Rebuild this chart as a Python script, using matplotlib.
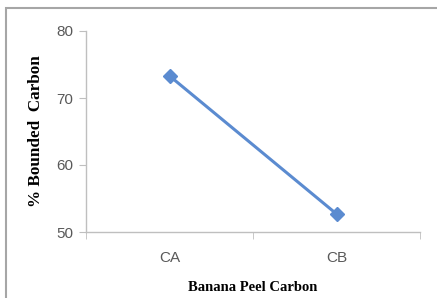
import matplotlib.pyplot as plt
from matplotlib.patches import Rectangle

# ------------------------------
# Data
# ------------------------------
categories = ["CA", "CB"]
bounded_carbon = [73.3, 52.7]
y_ticks = [50, 60, 70, 80]

W, H = 437, 298
fig = plt.figure(figsize=(W / 100, H / 100), dpi=100)

# outer chart frame (runs off the right/bottom edge as in the scan)
fig.patches.append(Rectangle((6 / W, -0.05), 1.0, 1 - 8 / H + 0.05,
                             transform=fig.transFigure, fill=False,
                             edgecolor="#a6a6a6", linewidth=1.5))

ax = fig.add_axes([86 / W, 1 - 232 / H, (420 - 86) / W, (232 - 31) / H])
x = list(range(len(categories)))
ax.plot(x, bounded_carbon, color="#5b8bd0", linewidth=2.2,
        marker="D", markersize=7, markerfacecolor="#5b8bd0",
        markeredgecolor="#5b8bd0")

ax.set_xlim(-0.5, len(categories) - 0.5)
ax.set_ylim(50, 80)
ax.set_yticks(y_ticks)
ax.set_xticks(x)
ax.set_xticklabels(categories)
ax.set_xticks([-0.5, 0.5, 1.5], minor=True)

for side in ("top", "right"):
    ax.spines[side].set_visible(False)
for side in ("left", "bottom"):
    ax.spines[side].set_color("#bfbfbf")
    ax.spines[side].set_linewidth(1.0)

ax.tick_params(axis="y", direction="out", length=5, color="#bfbfbf",
               labelsize=11, labelcolor="#595959", pad=4)
ax.tick_params(axis="x", which="major", length=0, labelsize=11,
               labelcolor="#595959", pad=14)
ax.tick_params(axis="x", which="minor", direction="out", length=5,
               color="#bfbfbf")
for lab in ax.get_xticklabels() + ax.get_yticklabels():
    lab.set_family("Liberation Sans")

ax.set_ylabel("% Bounded  Carbon", family="Liberation Serif",
              fontweight="bold", fontsize=12.3)
ax.yaxis.set_label_coords(-42 / (420 - 86), 0.50)
ax.set_xlabel("Banana Peel Carbon", family="Liberation Serif",
              fontweight="bold", fontsize=10.5)
ax.xaxis.set_label_coords(0.5, -(281 - 232) / (232 - 31))

fig.savefig("out.png", dpi=100)
